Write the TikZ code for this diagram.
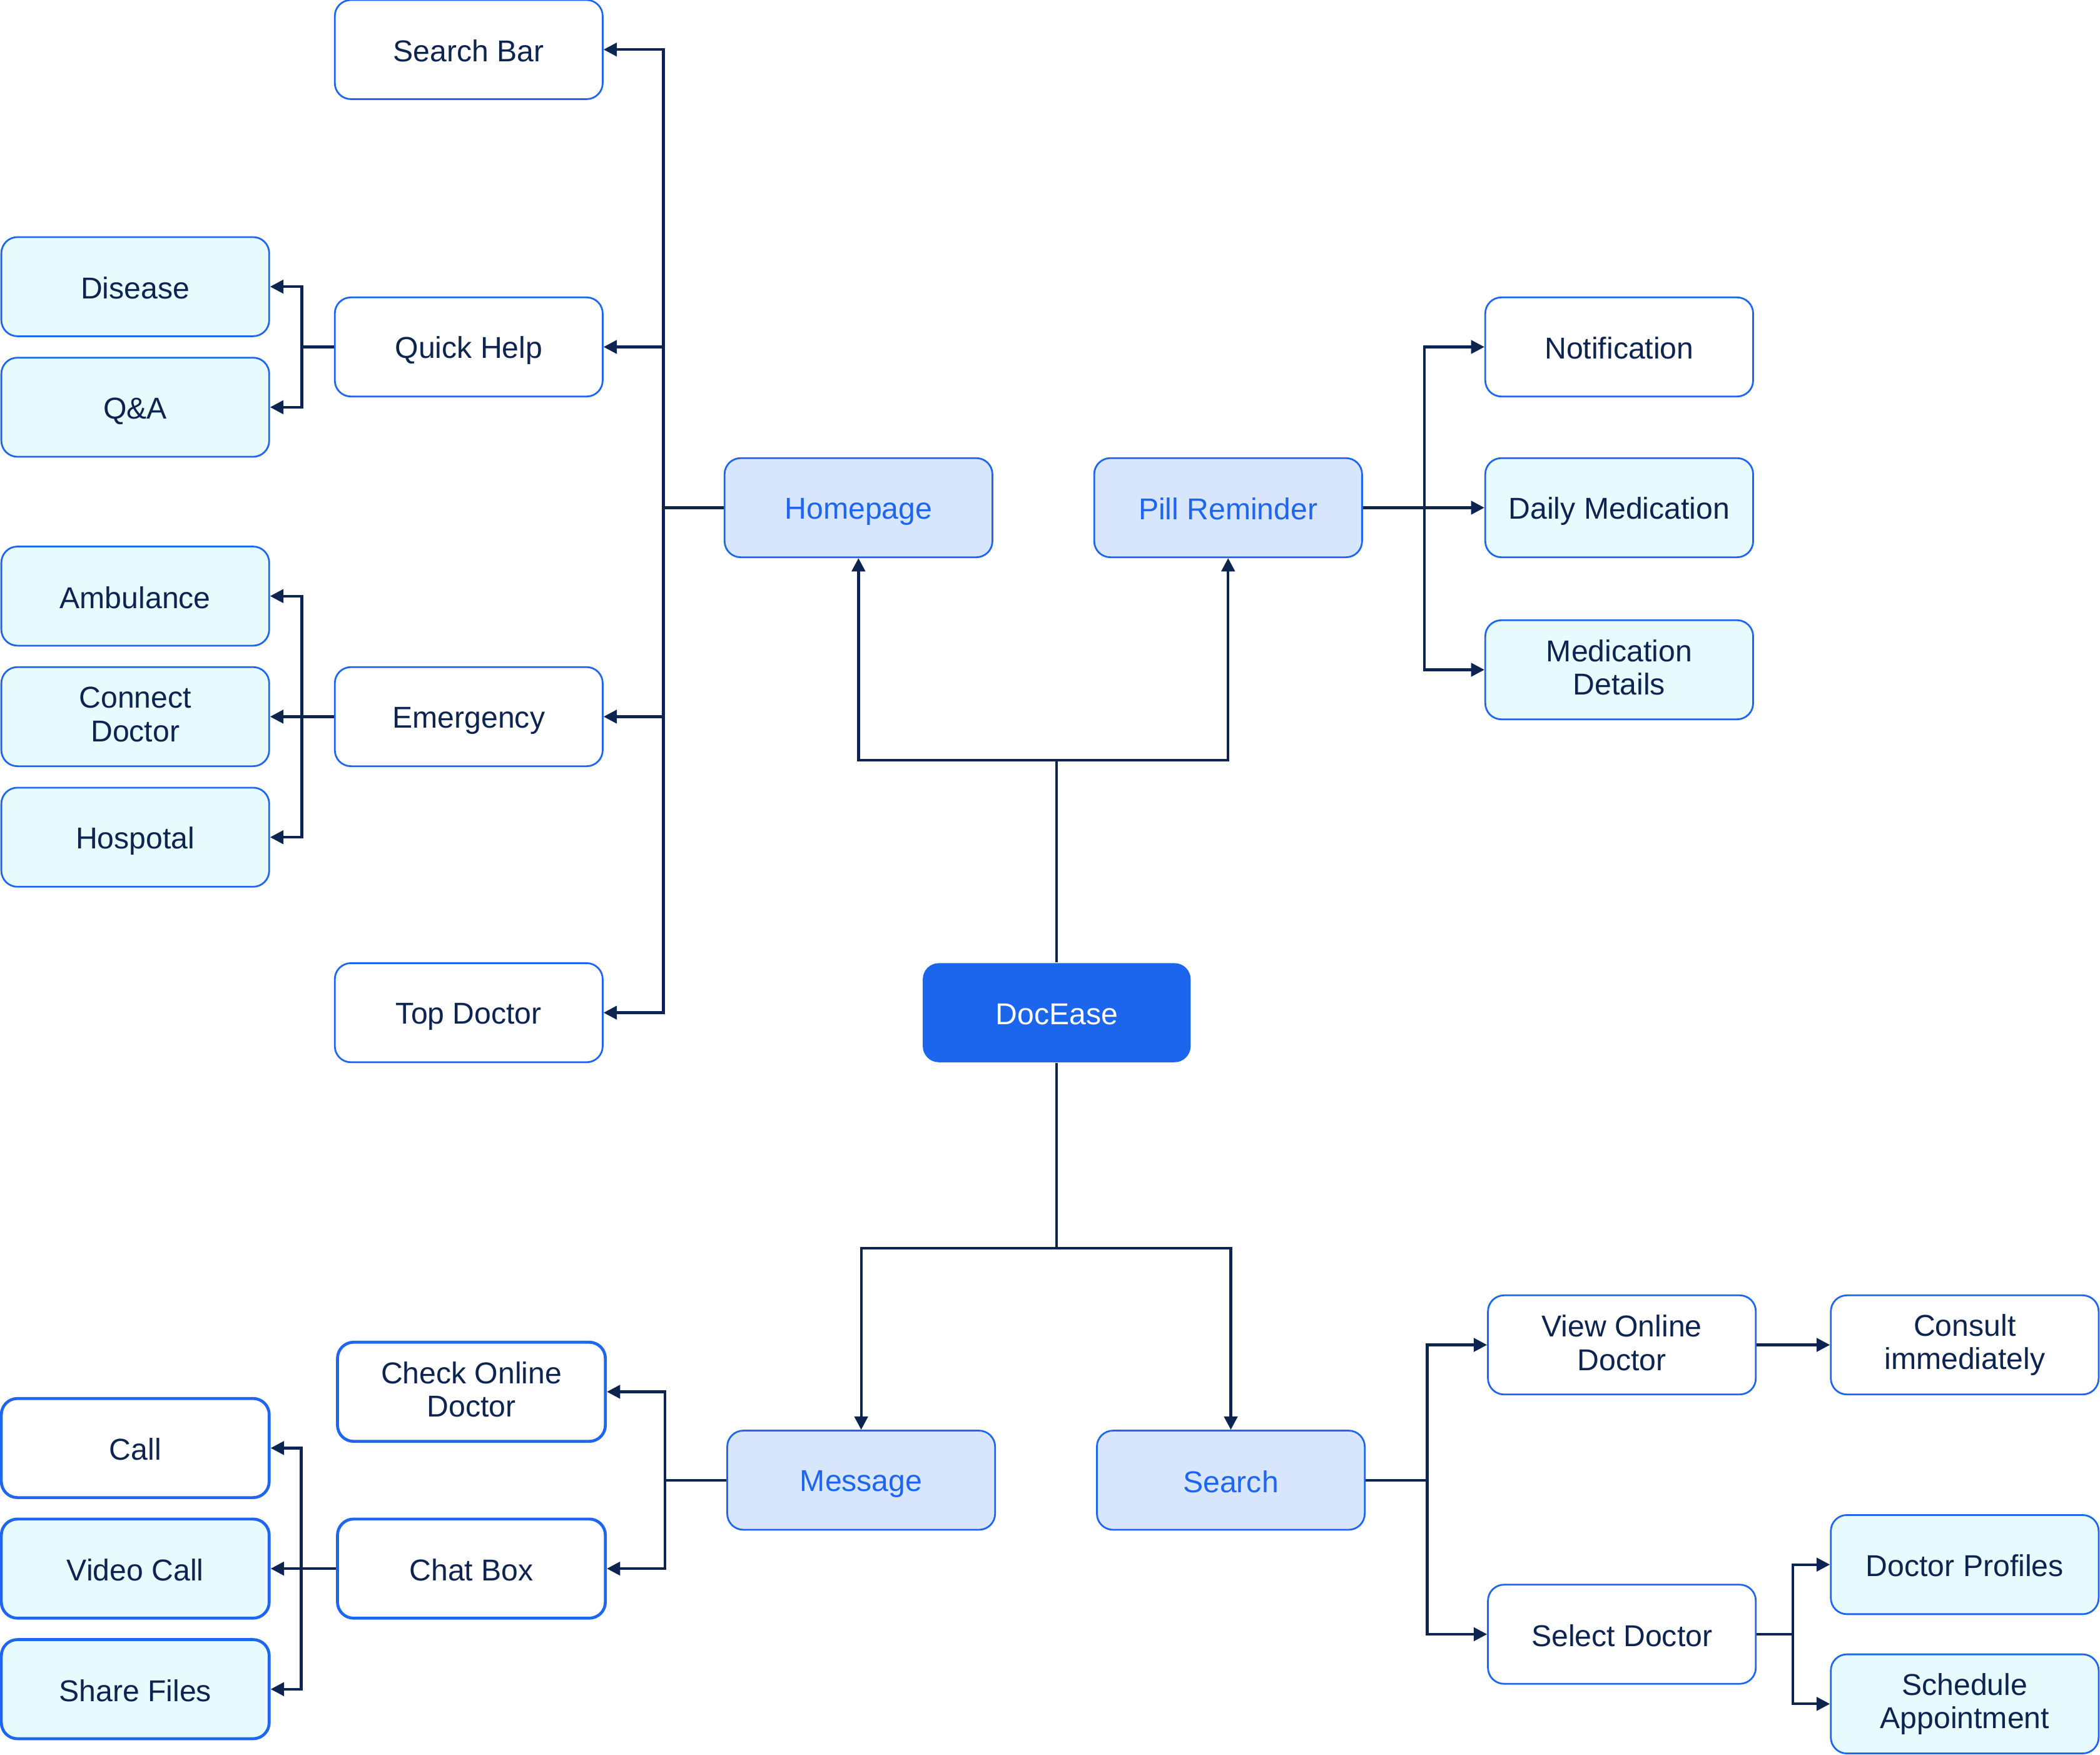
\documentclass[tikz,border=0pt]{standalone}
\usepackage{fontspec}
\setmainfont{Liberation Sans}
\usetikzlibrary{arrows.meta}
\definecolor{bordblue}{HTML}{1E66F0}
\definecolor{mainblue}{HTML}{1C66EE}
\definecolor{lightblue}{HTML}{D7E5FD}
\definecolor{lightcyan}{HTML}{E7FAFD}
\definecolor{navy}{HTML}{0D2350}
\newcommand\boxstrut{\rule[-3.5pt]{0pt}{25pt}}
\tikzset{
  box/.style={draw=bordblue, line width=1.3pt, rounded corners=12pt, minimum width=200pt, minimum height=74pt, inner sep=2pt, align=center, text=navy, font=\fontsize{22.5}{25}\selectfont, fill=white, execute at begin node={\boxstrut}, execute at end node={\boxstrut}},
  wbox/.style={box},
  cbox/.style={box, fill=lightcyan},
  bbox/.style={box, fill=lightblue, text=bordblue},
  thick box/.style={line width=2.2pt},
  rootbox/.style={box, draw=none, fill=mainblue, text=white},
  conn/.style={draw=navy, line width=2pt},
  arr/.style={conn, -{Triangle[length=10pt,width=10pt]}}
}
\begin{document}
\begin{tikzpicture}[x=1pt,y=-1pt]
\useasboundingbox (0,0) rectangle (1568,1310);
% top-left branch
\node[wbox] (sb) at (350,37) {Search Bar};
\node[wbox] (qh) at (350,259) {Quick Help};
\node[cbox] (dis) at (101,214) {Disease};
\node[cbox] (qa) at (101,304) {Q\&A};
\node[cbox] (amb) at (101,445) {Ambulance};
\node[cbox] (cd) at (101,535) {Connect\\Doctor};
\node[cbox] (hos) at (101,625) {Hospotal};
\node[wbox] (em) at (350,535) {Emergency};
\node[wbox] (td) at (350,756) {Top Doctor};
\node[bbox] (home) at (641,379) {Homepage};
\node[bbox] (pill) at (917,379) {Pill Reminder};
\node[wbox] (notif) at (1209,259) {Notification};
\node[cbox] (dm) at (1209,379) {Daily Medication};
\node[cbox] (md) at (1209,500) {Medication\\Details};
\node[rootbox] (doc) at (789,756) {DocEase};
% bottom
\node[bbox] (msg) at (643,1105) {Message};
\node[bbox] (srch) at (919,1105) {Search};
\node[wbox, thick box] (cod) at (352,1039) {Check Online\\Doctor};
\node[wbox, thick box] (chat) at (352,1171) {Chat Box};
\node[wbox, thick box] (call) at (101,1081) {Call};
\node[cbox, thick box] (vc) at (101,1171) {Video Call};
\node[cbox, thick box] (sf) at (101,1261) {Share Files};
\node[wbox] (vod) at (1211,1004) {View Online\\Doctor};
\node[wbox] (cons) at (1467,1004) {Consult\\immediately};
\node[wbox] (sel) at (1211,1220) {Select Doctor};
\node[cbox] (dp) at (1467,1168) {Doctor Profiles};
\node[cbox] (sa) at (1467,1272) {Schedule\\Appointment};
% connectors: homepage
\draw[arr] (home.west) -- ++(-45,0) |- (sb.east);
\draw[arr] (home.west) -- ++(-45,0) |- (qh.east);
\draw[arr] (home.west) -- ++(-45,0) |- (em.east);
\draw[arr] (home.west) -- ++(-45,0) |- (td.east);
\draw[arr] (qh.west) -- ++(-24,0) |- (dis.east);
\draw[arr] (qh.west) -- ++(-24,0) |- (qa.east);
\draw[arr] (em.west) -- ++(-24,0) |- (amb.east);
\draw[arr] (em.west) -- (cd.east);
\draw[arr] (em.west) -- ++(-24,0) |- (hos.east);
% root
\draw[arr] (doc.north) -- ++(0,-151) -| (home.south);
\draw[arr] (doc.north) -- ++(0,-151) -| (pill.south);
\draw[arr] (doc.south) -- ++(0,138) -| (msg.north);
\draw[arr] (doc.south) -- ++(0,138) -| (srch.north);
% pill reminder
\draw[arr] (pill.east) -- ++(46,0) |- (notif.west);
\draw[arr] (pill.east) -- (dm.west);
\draw[arr] (pill.east) -- ++(46,0) |- (md.west);
% message
\draw[arr] (msg.west) -- ++(-46,0) |- (cod.east);
\draw[arr] (msg.west) -- ++(-46,0) |- (chat.east);
\draw[arr] (chat.west) -- ++(-26,0) |- (call.east);
\draw[arr] (chat.west) -- (vc.east);
\draw[arr] (chat.west) -- ++(-26,0) |- (sf.east);
% search
\draw[arr] (srch.east) -- ++(46,0) |- (vod.west);
\draw[arr] (srch.east) -- ++(46,0) |- (sel.west);
\draw[arr] (vod.east) -- (cons.west);
\draw[arr] (sel.east) -- ++(27,0) |- (dp.west);
\draw[arr] (sel.east) -- ++(27,0) |- (sa.west);
\end{tikzpicture}
\end{document}
